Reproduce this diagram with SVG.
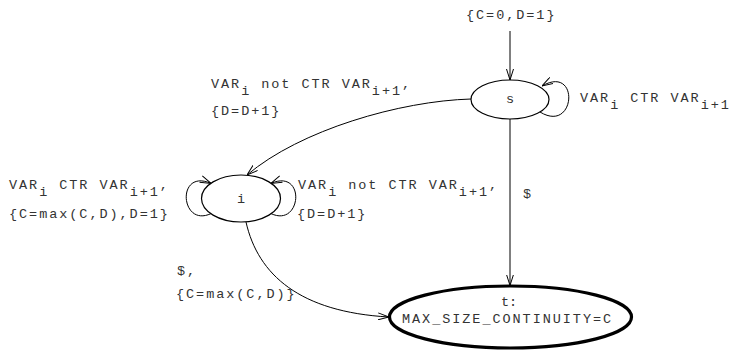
<svg xmlns="http://www.w3.org/2000/svg" width="731" height="351" viewBox="0 0 731 351">
<style>
text{font-family:"Liberation Mono","DejaVu Sans Mono",monospace;font-size:13.5px;letter-spacing:1.95px;fill:#333;white-space:pre}
.c{text-anchor:middle;letter-spacing:0}
.e{fill:none;stroke:#000;stroke-width:1}
.n{fill:#fff;stroke:#000;stroke-width:1.2}
.f{fill:#fff;stroke:#000;stroke-width:3.2}
</style>
<defs>
<marker id="a" viewBox="0 0 11 8" refX="11" refY="4" markerWidth="11" markerHeight="8" markerUnits="userSpaceOnUse" orient="auto">
<path d="M0,0.5 L11,4 L0,7.5" fill="none" stroke="#000" stroke-width="1"/>
</marker>
</defs>
<g id="connectors">
<path class="e" d="M510,31 L510,80" marker-end="url(#a)"/>
<path class="e" d="M540,112 C576,134 580,64 542,86" marker-end="url(#a)"/>
<path class="e" d="M471,99 C400,101 300,130 247,175" marker-end="url(#a)"/>
<path class="e" d="M510,119 L510,285.5" marker-end="url(#a)"/>
<path class="e" d="M211,213.6 C180,228 176,168 211,183.4" marker-end="url(#a)"/>
<path class="e" d="M271,213.6 C302,228 306,168 271,183.4" marker-end="url(#a)"/>
<path class="e" d="M246,222 C258,275 300,312 389,317" marker-end="url(#a)"/>
</g>
<g id="labels">
<text x="466" y="19">{C=0,D=1}</text>
<text x="211" y="88">VAR<tspan dy="7">i</tspan><tspan dy="-7"> not CTR VAR</tspan><tspan dy="7">i+1</tspan><tspan dy="-7">,</tspan></text>
<text x="211" y="115">{D=D+1}</text>
<text x="580" y="102">VAR<tspan dy="7">i</tspan><tspan dy="-7"> CTR VAR</tspan><tspan dy="7">i+1</tspan></text>
<text x="9" y="189">VAR<tspan dy="7">i</tspan><tspan dy="-7"> CTR VAR</tspan><tspan dy="7">i+1</tspan><tspan dy="-7">,</tspan></text>
<text x="9" y="218">{C=max(C,D),D=1}</text>
<text x="298" y="189">VAR<tspan dy="7">i</tspan><tspan dy="-7"> not CTR VAR</tspan><tspan dy="7">i+1</tspan><tspan dy="-7">,</tspan></text>
<text x="297" y="218">{D=D+1}</text>
<text x="523" y="198">$</text>
<text x="177" y="275">$,</text>
<text x="176" y="298">{C=max(C,D)}</text>
</g>
<g id="node-s">
<ellipse class="n" cx="510" cy="99.5" rx="39" ry="19.5"/>
<text class="c" x="510" y="103">s</text>
</g>
<g id="node-i">
<ellipse class="n" cx="241" cy="198.5" rx="39.5" ry="23.5"/>
<text class="c" x="241" y="203">i</text>
</g>
<g id="node-t">
<ellipse class="f" cx="510.5" cy="317" rx="121" ry="31"/>
<text class="c" x="509" y="306">t:</text>
<text x="402" y="323">MAX_SIZE_CONTINUITY=C</text>
</g>
</svg>
